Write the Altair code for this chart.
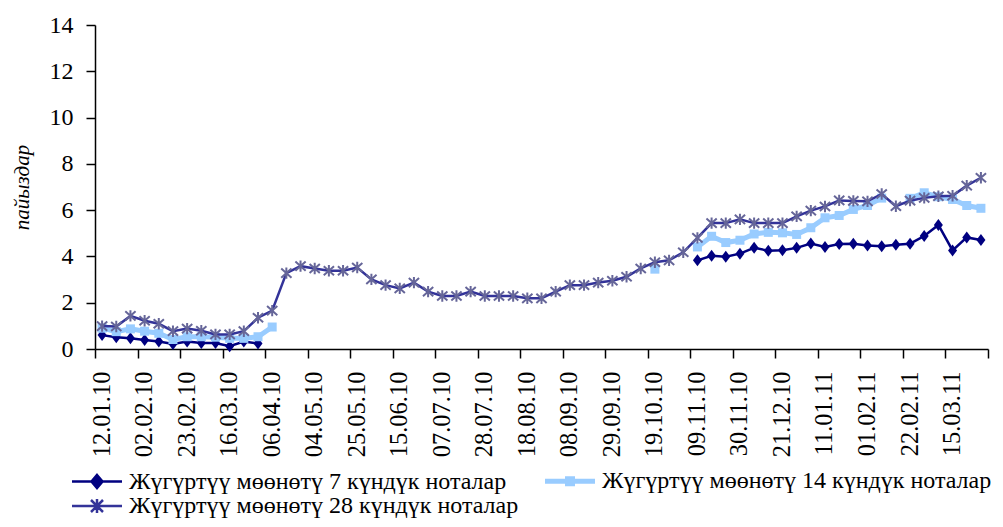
import json
import altair as alt
import pandas as pd

dates = [
    "12.01.10", "19.01.10", "26.01.10", "02.02.10", "09.02.10", "16.02.10", "23.02.10",
    "02.03.10", "09.03.10", "16.03.10", "23.03.10", "30.03.10", "06.04.10", "20.04.10",
    "27.04.10", "04.05.10", "11.05.10", "18.05.10", "25.05.10", "01.06.10", "08.06.10",
    "15.06.10", "22.06.10", "29.06.10", "07.07.10", "14.07.10", "21.07.10", "28.07.10",
    "04.08.10", "11.08.10", "18.08.10", "25.08.10", "01.09.10", "08.09.10", "15.09.10",
    "22.09.10", "29.09.10", "05.10.10", "12.10.10", "19.10.10", "26.10.10", "02.11.10",
    "09.11.10", "16.11.10", "23.11.10", "30.11.10", "07.12.10", "14.12.10", "21.12.10",
    "28.12.10", "04.01.11", "11.01.11", "18.01.11", "25.01.11", "01.02.11", "08.02.11",
    "15.02.11", "22.02.11", "01.03.11", "09.03.11", "15.03.11", "22.03.11", "29.03.11",
]

rate_7 = [
    0.60, 0.51, 0.46, 0.39, 0.32, 0.22, 0.32, 0.26, 0.26, 0.12, 0.32, 0.24,
    None, None, None, None, None, None, None, None, None, None, None, None, None,
    None, None, None, None, None, None, None, None, None, None, None, None, None,
    None, None, None, None,
    3.83, 4.03, 3.99, 4.12, 4.37, 4.25, 4.27, 4.37, 4.56, 4.41, 4.54, 4.55, 4.47,
    4.44, 4.50, 4.55, 4.88, 5.36, 4.26, 4.82, 4.71,
]

rate_14 = [
    0.90, 0.75, 0.87, 0.77, 0.68, 0.41, 0.53, 0.53, 0.51, 0.46, 0.46, 0.53, 0.95,
    None, None, None, None, None, None, None, None, None, None, None, None, None,
    None, None, None, None, None, None, None, None, None, None, None, None, None,
    3.45, None, None,
    4.41, 4.87, 4.60, 4.70, 4.97, 5.04, 5.02, 4.95, 5.24, 5.67, 5.77, 6.03, 6.20,
    6.52, None, 6.51, 6.75, 6.58, 6.46, 6.20, 6.08,
]

rate_28 = [
    0.99, 0.97, 1.43, 1.22, 1.09, 0.77, 0.88, 0.79, 0.63, 0.63, 0.77, 1.35, 1.66,
    3.28, 3.58, 3.48, 3.38, 3.38, 3.52, 3.01, 2.76, 2.62, 2.87, 2.48, 2.29, 2.29,
    2.48, 2.29, 2.29, 2.29, 2.19, 2.19, 2.48, 2.76, 2.76, 2.87, 2.95, 3.12, 3.48,
    3.75, 3.83, 4.18, 4.80, 5.44, 5.44, 5.60, 5.44, 5.44, 5.44, 5.73, 5.98, 6.16,
    6.42, 6.40, 6.38, 6.70, 6.17, 6.41, 6.53, 6.60, 6.62, 7.06, 7.40,
]

series_names = [
    "Жүгүртүү мөөнөтү 7 күндүк ноталар",
    "Жүгүртүү мөөнөтү 14 күндүк ноталар",
    "Жүгүртүү мөөнөтү 28 күндүк ноталар",
]
line_colors = ["#000080", "#99CCFF", "#333399"]
y_ticks = [0, 2, 4, 6, 8, 10, 12, 14]
tick_labels = dates[::3]

# long table, with run ids so gaps in a series break its line
rows = []
for name, vals in zip(series_names, [rate_7, rate_14, rate_28]):
    run = 0
    gap = True
    for i, (d, v) in enumerate(zip(dates, vals)):
        if v is None:
            gap = True
            continue
        if gap:
            run += 1
            gap = False
        rows.append({"idx": i, "date": d, "series": name, "value": v, "run": f"{name}-{run}"})
df = pd.DataFrame(rows)

n = len(dates)
tick_values = [k * 3 - 0.5 for k in range(len(tick_labels) + 1)]
label_expr = f"{json.dumps(tick_labels + [''])}[round((datum.value + 0.5) / 3)]"
half_step = 893 / n / 2

FONT = "Liberation Serif"

x_enc = alt.X(
    "idx:Q",
    scale=alt.Scale(domain=[-0.5, n - 0.5], nice=False, zero=False),
    axis=alt.Axis(
        values=tick_values, labelExpr=label_expr, labelAngle=-90,
        labelOffset=half_step, title=None, grid=False, tickSize=9, labelPadding=13,
        labelFont=FONT, labelFontSize=24.5, labelColor="black",
        domainColor="black", tickColor="black", domainWidth=1.5, tickWidth=1.5,
        labelOverlap=False,
    ),
)
y_enc = alt.Y(
    "value:Q",
    scale=alt.Scale(domain=[0, 14], nice=False),
    axis=alt.Axis(
        values=y_ticks, title="пайыздар", titleFont=FONT, titleFontSize=21,
        titleFontStyle="italic", titleFontWeight="normal", titleColor="black",
        titlePadding=17, grid=False, tickSize=9, labelPadding=13,
        labelFont=FONT, labelFontSize=24, labelColor="black",
        domainColor="black", tickColor="black", domainWidth=1.5, tickWidth=1.5,
    ),
)

legend_paths = [
    "M-5,0H5M0,-1.3L1.1,0L0,1.3L-1.1,0Z",
    "M-5,0H5M-0.5,-0.5H0.5V0.5H-0.5Z",
    "M-5,0H5M0,-1.4V1.4M-1.2,-1.2L1.2,1.2M-1.2,1.2L1.2,-1.2",
]
legend_widths = [2.5, 5, 2.5]
legend_fill = ["#000080", "#99CCFF", "transparent"]


def pick(vals):
    a, b, c = [json.dumps(v) if not isinstance(v, str) else "'" + v + "'" for v in vals]
    return (f"datum.value === '{series_names[0]}' ? {a} : "
            f"datum.value === '{series_names[1]}' ? {b} : {c}")


color_enc = alt.Color(
    "series:N",
    scale=alt.Scale(domain=series_names, range=line_colors),
    legend=alt.Legend(
        title=None, orient="none", legendX=-10, legendY=444, columns=2,
        direction="horizontal",
        labelFont=FONT, labelFontSize=24, labelColor="black", labelLimit=800,
        symbolSize=100, labelOffset=20, columnPadding=16, rowPadding=0,
        symbolType=alt.ExprRef(expr=pick(legend_paths)),
        symbolStrokeWidth=alt.ExprRef(expr=pick(legend_widths)),
        symbolFillColor=alt.ExprRef(expr=pick(legend_fill)),
        symbolOpacity=1,
    ),
)

base = alt.Chart(df)

marker_specs = [
    dict(shape="M0,-1.2L0.9,0L0,1.2L-0.9,0Z", size=100, filled=True, color="#000080"),
    dict(shape="square", size=81, filled=True, color="#99CCFF"),
    dict(shape="M0,-1V1M-0.9,-0.8L0.9,0.8M-0.9,0.8L0.9,-0.8", size=130, filled=False,
         color="#666699", strokeWidth=2),
]
widths = [2.5, 5, 2.5]

layers = []
for name, w, ms in zip(series_names, widths, marker_specs):
    sub = base.transform_filter(alt.datum.series == name)
    layers.append(
        sub.mark_line().encode(
            x=x_enc, y=y_enc, color=color_enc, detail="run:N", strokeWidth=alt.value(w)
        )
    )
    layers.append(sub.mark_point(opacity=1, **ms).encode(x=x_enc, y=y_enc))

chart = alt.layer(*layers).properties(
    width=893, height=324,
    autosize=alt.AutoSizeParams(type="none"),
    padding={"left": 87, "top": 17, "right": 7, "bottom": 170},
    background="white",
).configure_view(stroke=None)

chart.save("out.html", embed_options={"renderer": "svg", "actions": False})
